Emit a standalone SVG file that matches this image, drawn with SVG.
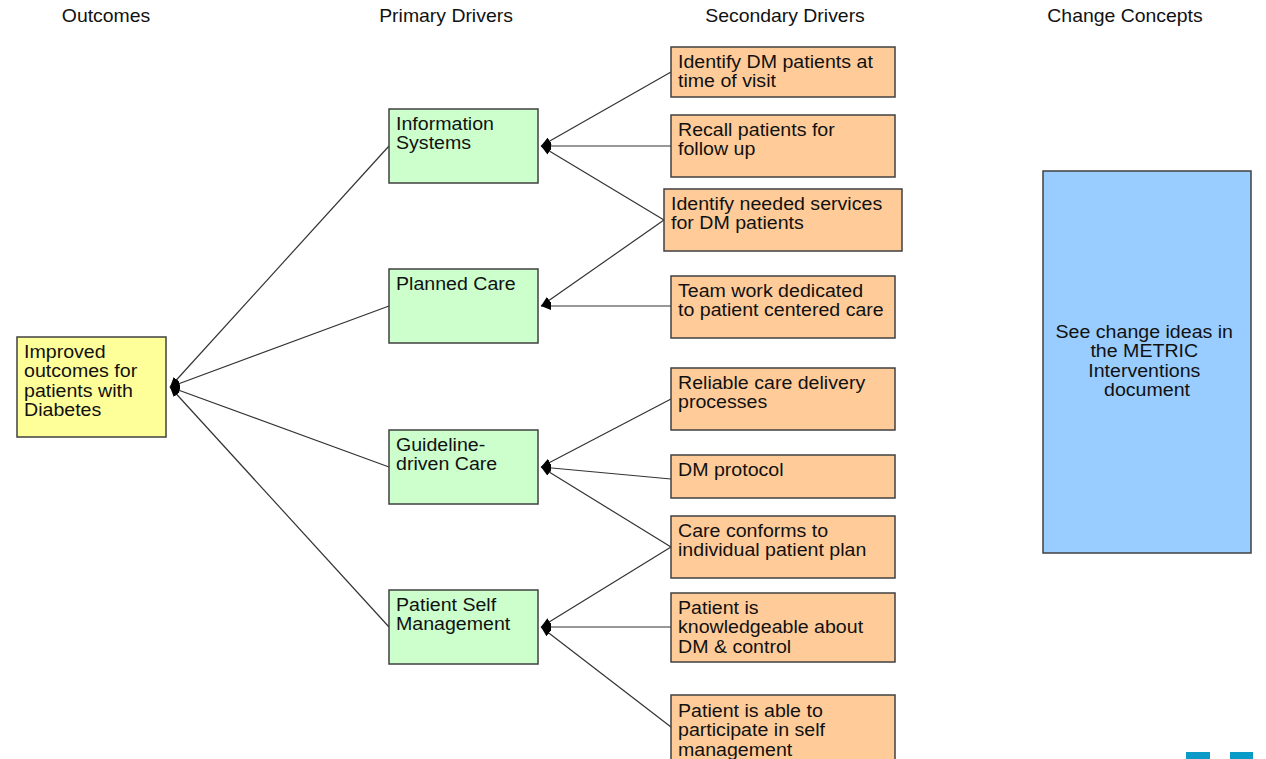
<svg xmlns="http://www.w3.org/2000/svg" width="1266" height="759" viewBox="0 0 1266 759">
  <style>
    .box { stroke: #404040; stroke-width: 1.5; }
    .outcome { fill: #ffff99; }
    .primary { fill: #ccffcc; }
    .secondary { fill: #ffcc99; }
    .concept { fill: #99ccff; }
    text { font-family: "Liberation Sans", Arial, sans-serif; font-size: 17.5px; fill: #111111; }
    .hdr { text-anchor: middle; }
    .mid { text-anchor: middle; }
    .link { stroke: #333333; stroke-width: 1.2; fill: none; marker-end: url(#head); }
    .logo { fill: #0a9ac7; }
  </style>
  <defs>
    <marker id="head" viewBox="0 0 10 8" refX="10" refY="4" markerWidth="10" markerHeight="8" markerUnits="userSpaceOnUse" orient="auto">
      <path d="M0,0 L10,4 L0,8 z" fill="#000"/>
    </marker>
  </defs>

  <!-- column headings -->
  <g id="headings">
    <text class="hdr" transform="translate(106 22) scale(1.11 1)">Outcomes</text>
    <text class="hdr" transform="translate(446 22) scale(1.11 1)">Primary Drivers</text>
    <text class="hdr" transform="translate(785 22) scale(1.11 1)">Secondary Drivers</text>
    <text class="hdr" transform="translate(1125 22) scale(1.11 1)">Change Concepts</text>
  </g>

  <!-- connectors: each line points at the node it drives -->
  <g id="connectors">
    <line class="link" x1="389" y1="146" x2="170" y2="387"/>
    <line class="link" x1="389" y1="306" x2="170" y2="387"/>
    <line class="link" x1="389" y1="467" x2="170" y2="387"/>
    <line class="link" x1="389" y1="627" x2="170" y2="387"/>

    <line class="link" x1="671" y1="72" x2="541" y2="146"/>
    <line class="link" x1="671" y1="146" x2="541" y2="146"/>
    <line class="link" x1="664" y1="220" x2="541" y2="146"/>

    <line class="link" x1="664" y1="220" x2="541" y2="306"/>
    <line class="link" x1="671" y1="306" x2="541" y2="306"/>

    <line class="link" x1="671" y1="399" x2="541" y2="467"/>
    <line class="link" x1="671" y1="479" x2="541" y2="467"/>
    <line class="link" x1="671" y1="547" x2="541" y2="467"/>

    <line class="link" x1="671" y1="547" x2="541" y2="627"/>
    <line class="link" x1="671" y1="627" x2="541" y2="627"/>
    <line class="link" x1="671" y1="727" x2="541" y2="627"/>
  </g>

  <!-- outcome -->
  <g id="outcome">
    <rect class="box outcome" x="17" y="337" width="149" height="100"/>
    <text transform="translate(24 358) scale(1.12 1)">
      <tspan x="0" y="0">Improved</tspan>
      <tspan x="0" y="19.5">outcomes for</tspan>
      <tspan x="0" y="39">patients with</tspan>
      <tspan x="0" y="58.5">Diabetes</tspan>
    </text>
  </g>

  <!-- primary drivers -->
  <g id="primary-information-systems">
    <rect class="box primary" x="389" y="109" width="149" height="74"/>
    <text transform="translate(396 130) scale(1.12 1)">
      <tspan x="0" y="0">Information</tspan>
      <tspan x="0" y="19.5">Systems</tspan>
    </text>
  </g>
  <g id="primary-planned-care">
    <rect class="box primary" x="389" y="269" width="149" height="74"/>
    <text transform="translate(396 290) scale(1.12 1)">Planned Care</text>
  </g>
  <g id="primary-guideline-driven-care">
    <rect class="box primary" x="389" y="430" width="149" height="74"/>
    <text transform="translate(396 451) scale(1.12 1)">
      <tspan x="0" y="0">Guideline-</tspan>
      <tspan x="0" y="19.5">driven Care</tspan>
    </text>
  </g>
  <g id="primary-patient-self-management">
    <rect class="box primary" x="389" y="590" width="149" height="74"/>
    <text transform="translate(396 611) scale(1.12 1)">
      <tspan x="0" y="0">Patient Self</tspan>
      <tspan x="0" y="19.5">Management</tspan>
    </text>
  </g>

  <!-- secondary drivers -->
  <g id="secondary-identify-dm-patients">
    <rect class="box secondary" x="671" y="47" width="224" height="50"/>
    <text transform="translate(678 68) scale(1.12 1)">
      <tspan x="0" y="0">Identify DM patients at</tspan>
      <tspan x="0" y="19.5">time of visit</tspan>
    </text>
  </g>
  <g id="secondary-recall-patients">
    <rect class="box secondary" x="671" y="115" width="224" height="62"/>
    <text transform="translate(678 136) scale(1.12 1)">
      <tspan x="0" y="0">Recall patients for</tspan>
      <tspan x="0" y="19.5">follow up</tspan>
    </text>
  </g>
  <g id="secondary-identify-needed-services">
    <rect class="box secondary" x="664" y="189" width="238" height="62"/>
    <text transform="translate(671 210) scale(1.12 1)">
      <tspan x="0" y="0">Identify needed services</tspan>
      <tspan x="0" y="19.5">for DM patients</tspan>
    </text>
  </g>
  <g id="secondary-team-work">
    <rect class="box secondary" x="671" y="276" width="224" height="62"/>
    <text transform="translate(678 297) scale(1.12 1)">
      <tspan x="0" y="0">Team work dedicated</tspan>
      <tspan x="0" y="19.5">to patient centered care</tspan>
    </text>
  </g>
  <g id="secondary-reliable-care-delivery">
    <rect class="box secondary" x="671" y="368" width="224" height="62"/>
    <text transform="translate(678 389) scale(1.12 1)">
      <tspan x="0" y="0">Reliable care delivery</tspan>
      <tspan x="0" y="19.5">processes</tspan>
    </text>
  </g>
  <g id="secondary-dm-protocol">
    <rect class="box secondary" x="671" y="455" width="224" height="43"/>
    <text transform="translate(678 476) scale(1.12 1)">DM protocol</text>
  </g>
  <g id="secondary-care-conforms">
    <rect class="box secondary" x="671" y="516" width="224" height="62"/>
    <text transform="translate(678 537) scale(1.12 1)">
      <tspan x="0" y="0">Care conforms to</tspan>
      <tspan x="0" y="19.5">individual patient plan</tspan>
    </text>
  </g>
  <g id="secondary-patient-knowledgeable">
    <rect class="box secondary" x="671" y="593" width="224" height="69"/>
    <text transform="translate(678 614) scale(1.12 1)">
      <tspan x="0" y="0">Patient is</tspan>
      <tspan x="0" y="19.5">knowledgeable about</tspan>
      <tspan x="0" y="39">DM &amp; control</tspan>
    </text>
  </g>
  <g id="secondary-patient-participates">
    <rect class="box secondary" x="671" y="695" width="224" height="80"/>
    <text transform="translate(678 717) scale(1.12 1)">
      <tspan x="0" y="0">Patient is able to</tspan>
      <tspan x="0" y="19.5">participate in self</tspan>
      <tspan x="0" y="39">management</tspan>
    </text>
  </g>

  <!-- change concepts -->
  <g id="change-concepts">
    <rect class="box concept" x="1043" y="171" width="208" height="382"/>
    <text class="mid" transform="translate(1147 338) scale(1.12 1)">
      <tspan x="0" y="0">See change ideas in</tspan>
      <tspan x="0" y="19.5">the METRIC</tspan>
      <tspan x="0" y="39">Interventions</tspan>
      <tspan x="0" y="58.5">document</tspan>
    </text>
  </g>

  <!-- corner logo bars -->
  <g id="logo">
    <rect class="logo" x="1186" y="752" width="24" height="8"/>
    <rect class="logo" x="1230" y="752" width="23" height="8"/>
  </g>
</svg>
